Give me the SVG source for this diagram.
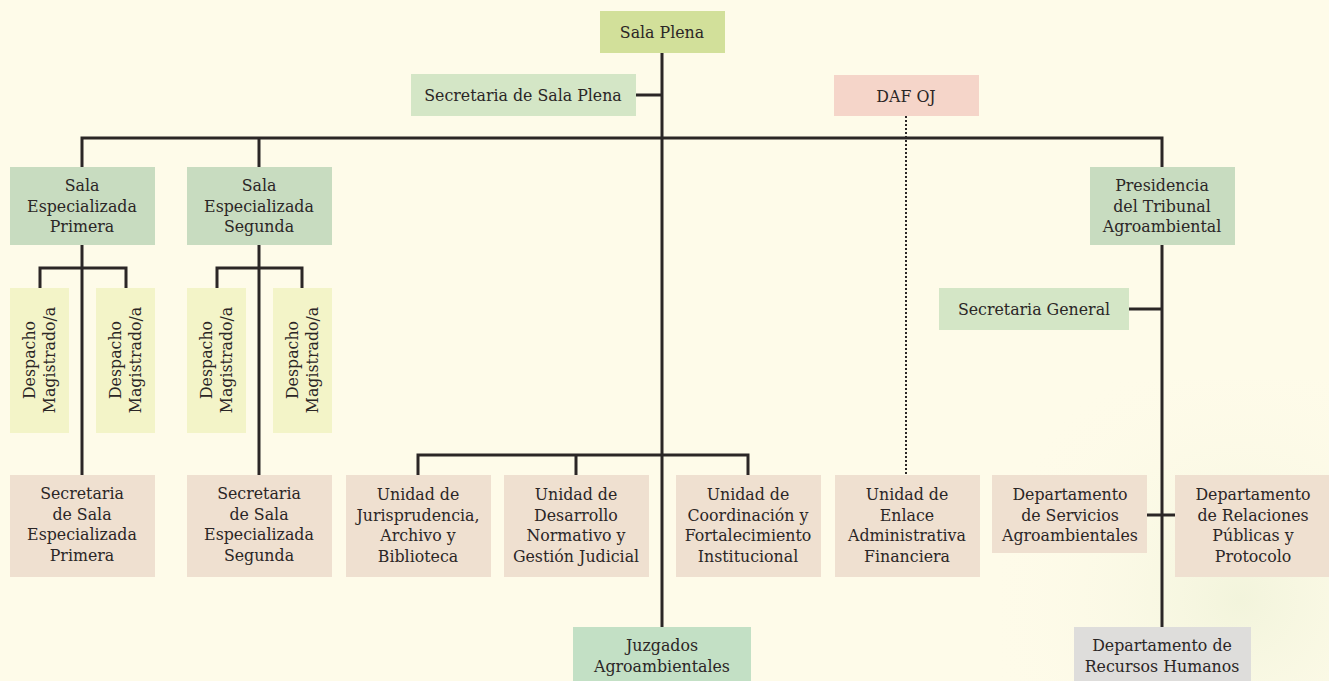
<svg xmlns="http://www.w3.org/2000/svg" width="1329" height="681" viewBox="0 0 1329 681">
  <defs>
    <radialGradient id="wash" cx="1240" cy="600" r="260" gradientUnits="userSpaceOnUse">
      <stop offset="0" stop-color="#edf1d6" stop-opacity="0.7"/>
      <stop offset="1" stop-color="#fefbe9" stop-opacity="0"/>
    </radialGradient>
  </defs>
  <style>
    text { font-family: "DejaVu Serif", "Liberation Serif", serif; font-size: 15.8px; fill: #2b2626; text-anchor: middle; }
    .ln { stroke: #2b2626; stroke-width: 3; fill: none; }
    .dot { stroke: #2b2626; stroke-width: 2; stroke-dasharray: 2 2; fill: none; }
    .top { fill: #d2e09a; }
    .green { fill: #c8dcc0; }
    .lgreen { fill: #d4e6c6; }
    .pink { fill: #f5d5c9; }
    .yel { fill: #f3f4c8; }
    .tan { fill: #efe0d0; }
    .juz { fill: #c3e0c5; }
    .grey { fill: #dedddb; }
  </style>
  <rect width="1329" height="681" fill="#fefbe9"/>
  <rect x="1000" y="380" width="329" height="301" fill="url(#wash)"/>

  <g id="connectors">
    <path class="ln" d="M662 53 V627"/>
    <path class="ln" d="M636 95 H662"/>
    <path class="ln" d="M82 167 V138 H1162 V167"/>
    <path class="ln" d="M259 138 V167"/>
    <path class="dot" d="M906 116 V475"/>
    <path class="ln" d="M82 245 V475"/>
    <path class="ln" d="M40 288 V268 H126 V288"/>
    <path class="ln" d="M259 245 V475"/>
    <path class="ln" d="M217 288 V268 H302 V288"/>
    <path class="ln" d="M418 475 V455 H748 V475"/>
    <path class="ln" d="M576 455 V475"/>
    <path class="ln" d="M1162 245 V627"/>
    <path class="ln" d="M1129 309 H1162"/>
    <path class="ln" d="M1147 515 H1175"/>
  </g>

  <g id="sala-plena">
    <rect class="top" x="600" y="11" width="125" height="42"/>
    <text x="662" y="38">Sala Plena</text>
  </g>
  <g id="secretaria-sala-plena">
    <rect class="lgreen" x="411" y="74" width="225" height="42"/>
    <text x="523" y="101">Secretaria de Sala Plena</text>
  </g>
  <g id="daf-oj">
    <rect class="pink" x="834" y="75" width="145" height="41"/>
    <text x="906" y="102">DAF OJ</text>
  </g>

  <g id="sala-primera">
    <rect class="green" x="10" y="167" width="145" height="78"/>
    <text x="82" y="191">Sala</text>
    <text x="82" y="212">Especializada</text>
    <text x="82" y="232">Primera</text>
  </g>
  <g id="sala-segunda">
    <rect class="green" x="187" y="167" width="145" height="78"/>
    <text x="259" y="191">Sala</text>
    <text x="259" y="212">Especializada</text>
    <text x="259" y="232">Segunda</text>
  </g>
  <g id="presidencia">
    <rect class="green" x="1090" y="167" width="145" height="78"/>
    <text x="1162" y="191">Presidencia</text>
    <text x="1162" y="212">del Tribunal</text>
    <text x="1162" y="232">Agroambiental</text>
  </g>
  <g id="secretaria-general">
    <rect class="lgreen" x="939" y="288" width="190" height="42"/>
    <text x="1034" y="315">Secretaria General</text>
  </g>

  <g id="despacho-1">
    <rect class="yel" x="10" y="288" width="59" height="145"/>
    <text transform="translate(35 360) rotate(-90)">Despacho</text>
    <text transform="translate(55 360) rotate(-90)">Magistrado/a</text>
  </g>
  <g id="despacho-2">
    <rect class="yel" x="96" y="288" width="59" height="145"/>
    <text transform="translate(121 360) rotate(-90)">Despacho</text>
    <text transform="translate(141 360) rotate(-90)">Magistrado/a</text>
  </g>
  <g id="despacho-3">
    <rect class="yel" x="187" y="288" width="59" height="145"/>
    <text transform="translate(212 360) rotate(-90)">Despacho</text>
    <text transform="translate(232 360) rotate(-90)">Magistrado/a</text>
  </g>
  <g id="despacho-4">
    <rect class="yel" x="273" y="288" width="59" height="145"/>
    <text transform="translate(298 360) rotate(-90)">Despacho</text>
    <text transform="translate(318 360) rotate(-90)">Magistrado/a</text>
  </g>

  <g id="secretaria-primera">
    <rect class="tan" x="10" y="475" width="145" height="102"/>
    <text x="82" y="499">Secretaria</text>
    <text x="82" y="520">de Sala</text>
    <text x="82" y="540">Especializada</text>
    <text x="82" y="561">Primera</text>
  </g>
  <g id="secretaria-segunda">
    <rect class="tan" x="187" y="475" width="145" height="102"/>
    <text x="259" y="499">Secretaria</text>
    <text x="259" y="520">de Sala</text>
    <text x="259" y="540">Especializada</text>
    <text x="259" y="561">Segunda</text>
  </g>
  <g id="unidad-jurisprudencia">
    <rect class="tan" x="346" y="475" width="145" height="102"/>
    <text x="418" y="500">Unidad de</text>
    <text x="418" y="521">Jurisprudencia,</text>
    <text x="418" y="541">Archivo y</text>
    <text x="418" y="562">Biblioteca</text>
  </g>
  <g id="unidad-desarrollo">
    <rect class="tan" x="504" y="475" width="145" height="102"/>
    <text x="576" y="500">Unidad de</text>
    <text x="576" y="521">Desarrollo</text>
    <text x="576" y="541">Normativo y</text>
    <text x="576" y="562">Gestión Judicial</text>
  </g>
  <g id="unidad-coordinacion">
    <rect class="tan" x="676" y="475" width="145" height="102"/>
    <text x="748" y="500">Unidad de</text>
    <text x="748" y="521">Coordinación y</text>
    <text x="748" y="541">Fortalecimiento</text>
    <text x="748" y="562">Institucional</text>
  </g>
  <g id="unidad-enlace">
    <rect class="tan" x="835" y="475" width="145" height="102"/>
    <text x="907" y="500">Unidad de</text>
    <text x="907" y="521">Enlace</text>
    <text x="907" y="541">Administrativa</text>
    <text x="907" y="562">Financiera</text>
  </g>
  <g id="dep-servicios">
    <rect class="tan" x="992" y="475" width="155" height="78"/>
    <text x="1070" y="500">Departamento</text>
    <text x="1070" y="521">de Servicios</text>
    <text x="1070" y="541">Agroambientales</text>
  </g>
  <g id="dep-relaciones">
    <rect class="tan" x="1175" y="475" width="154" height="102"/>
    <text x="1253" y="500">Departamento</text>
    <text x="1253" y="521">de Relaciones</text>
    <text x="1253" y="541">Públicas y</text>
    <text x="1253" y="562">Protocolo</text>
  </g>
  <g id="juzgados">
    <rect class="juz" x="573" y="627" width="178" height="54"/>
    <text x="662" y="651">Juzgados</text>
    <text x="662" y="672">Agroambientales</text>
  </g>
  <g id="dep-rrhh">
    <rect class="grey" x="1074" y="627" width="177" height="54"/>
    <text x="1162" y="651">Departamento de</text>
    <text x="1162" y="672">Recursos Humanos</text>
  </g>
</svg>
